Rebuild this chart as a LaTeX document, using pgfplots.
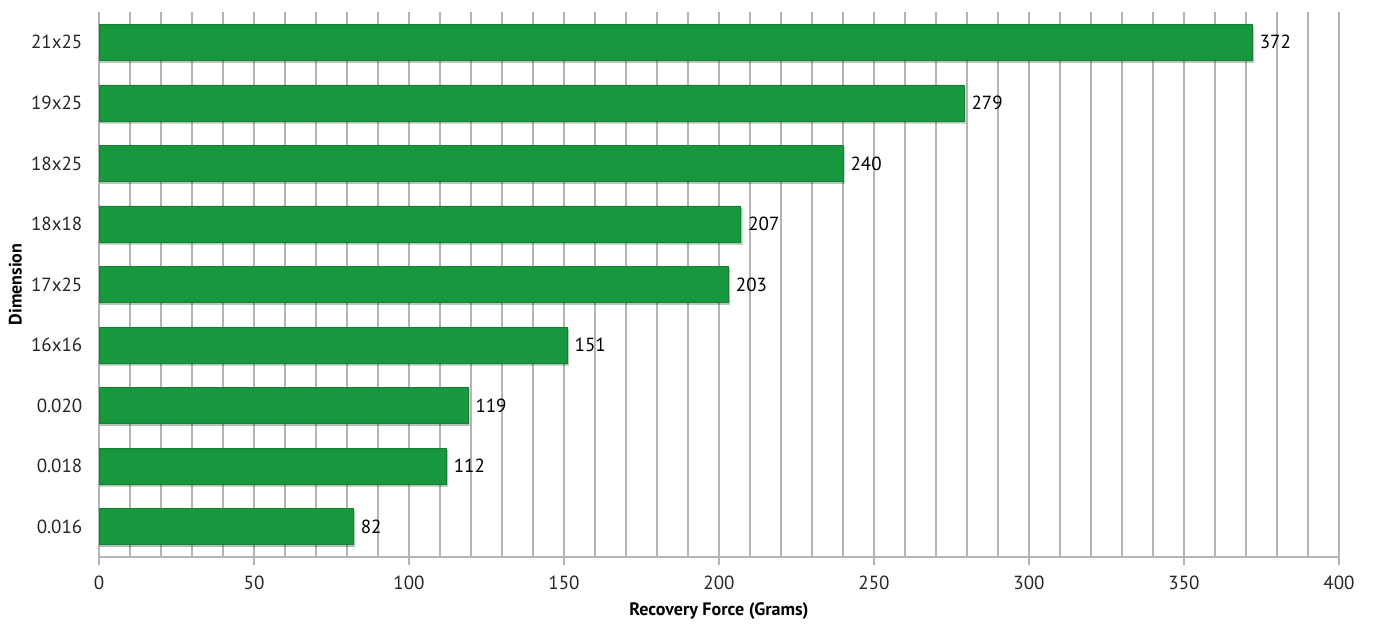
\documentclass[border=0pt]{standalone}
\usepackage{pgfplots}
\pgfplotsset{compat=1.18}
\usetikzlibrary{shadows}
\usepackage{fontspec}
\setmainfont{PT Sans}
\definecolor{bargreen}{RGB}{24,152,62}
\definecolor{gridgrey}{RGB}{185,178,178}
\begin{document}
\fontsize{9.5}{11}\selectfont
\begin{tikzpicture}
\begin{axis}[
  name=ax,
  scale only axis,
  width=620pt, height=272.5pt,
  xbar, bar width=18pt,
  xmin=0, xmax=400,
  ymin=-0.5, ymax=8.5,
  ytick={0,...,8},
  yticklabels={0.016,0.018,0.020,16x16,17x25,18x18,18x25,19x25,21x25},
  xtick={0,50,...,400},
  minor x tick num=4,
  xmajorgrids, xminorgrids,
  major grid style={gridgrey, line width=0.6pt},
  minor grid style={gridgrey, line width=0.6pt},
  axis x line*=bottom, axis y line*=left,
  axis line style={gridgrey, line width=0.8pt},
  x axis line style={-},
  y axis line style={-},
  xtick style={gridgrey, line width=0.8pt},
  major x tick style={gridgrey},
  minor x tick style={draw=none},
  ytick style={draw=none},
  tick align=outside,
  major tick length=4pt,
  ticklabel style={font=\fontsize{9.5}{11}\selectfont, text=black!85},
  /pgf/number format/assume math mode=true,
  xticklabel style={yshift=-2pt},
  yticklabel style={xshift=-1pt},
  xlabel={\textbf{Recovery Force (Grams)}},
  ylabel={\textbf{Dimension}},
  xlabel style={font=\fontsize{9}{11}\selectfont, yshift=0pt},
  ylabel style={font=\fontsize{9}{11}\selectfont, yshift=-2pt},
  nodes near coords,
  nodes near coords style={font=\fontsize{9.5}{11}\selectfont, text=black, anchor=west, xshift=0.5pt},
  clip=false,
]
\addplot[fill=bargreen, draw=bargreen!85!black, line width=0.3pt,
  drop shadow={shadow xshift=0.6pt, shadow yshift=-1pt, opacity=0.25, fill=black}] coordinates {
(82,0) (112,1) (119,2) (151,3) (203,4) (207,5) (240,6) (279,7) (372,8)
};
\end{axis}
\path ([xshift=-49.5pt, yshift=-30.5pt]ax.south west) rectangle ([xshift=17.5pt, yshift=6pt]ax.north east);
\end{tikzpicture}
\end{document}
